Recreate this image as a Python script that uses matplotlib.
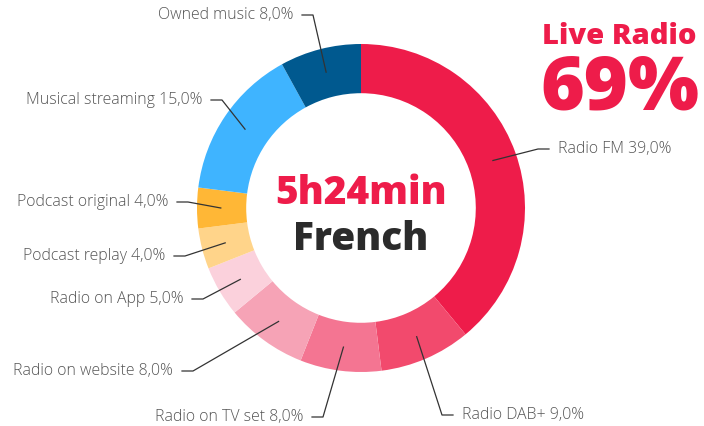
import numpy as np
import matplotlib
matplotlib.use('Agg')
import matplotlib.pyplot as plt

plt.rcParams['font.family'] = ['Open Sans', 'DejaVu Sans']

# Listening share by source (clockwise from top)
sources = ['Radio FM', 'Radio DAB+', 'Radio on TV set', 'Radio on website',
           'Radio on App', 'Podcast replay', 'Podcast original',
           'Musical streaming', 'Owned music']
shares = [39.0, 9.0, 8.0, 8.0, 5.0, 4.0, 4.0, 15.0, 8.0]
colors = ['#EE1C4A', '#F24A6D', '#F47592', '#F6A3B6', '#FBD1DC',
          '#FFD48A', '#FFB736', '#3FB4FF', '#00598F']

total_time = '5h24min'
language = 'French'
live_label = 'Live Radio'
live_share = '69%'

# label layout in pixels: elbow x, label y, side (+1 right, -1 left)
label_layout = [(538, 149, 1), (442, 415, 1), (323, 417, -1), (193, 371, -1),
                (203, 299, -1), (185, 256, -1), (188, 202, -1),
                (222, 100, -1), (313, 15, -1)]

W, H = 704, 426
fig = plt.figure(figsize=(W / 100, H / 100), dpi=100)
ax = fig.add_axes([0, 0, 1, 1])
ax.set_xlim(0, W)
ax.set_ylim(0, H)
ax.set_aspect('equal')
ax.axis('off')

cx, cy, R = 361, H - 208, 164
wedges, _ = ax.pie(shares, colors=colors, startangle=90, counterclock=False,
                   radius=R, center=(cx, cy),
                   wedgeprops=dict(width=R * 0.3, linewidth=0))
ax.set_xlim(0, W)
ax.set_ylim(0, H)

for w, name, val, (ex, ey, side) in zip(wedges, sources, shares, label_layout):
    ang = np.deg2rad((w.theta1 + w.theta2) / 2)
    px = cx + 0.855 * R * np.cos(ang)
    py = cy + 0.855 * R * np.sin(ang)
    ey = H - ey
    hx = ex + side * 11
    ax.plot([px, ex, hx], [py, ey, ey], color='#333333', lw=0.9)
    txt = f"{name} {val:.1f}%".replace('.', ',')
    ax.text(hx + side * 9, ey, txt, ha='left' if side > 0 else 'right',
            va='center', fontsize=11.4, color='#555555', fontweight='light')

ax.text(cx, H - 193, total_time, ha='center', va='center', fontsize=28,
        fontweight='heavy', color='#EE1C4A')
ax.text(cx, H - 239, language, ha='center', va='center', fontsize=28,
        fontweight='heavy', color='#2B2B2B')

ax.text(697, H - 37, live_label, ha='right', va='center', fontsize=21,
        fontweight='heavy', color='#EE1C4A')
ax.text(699, H - 90, live_share, ha='right', va='center', fontsize=54,
        fontweight='heavy', color='#EE1C4A')

fig.savefig('out.png', dpi=100)
